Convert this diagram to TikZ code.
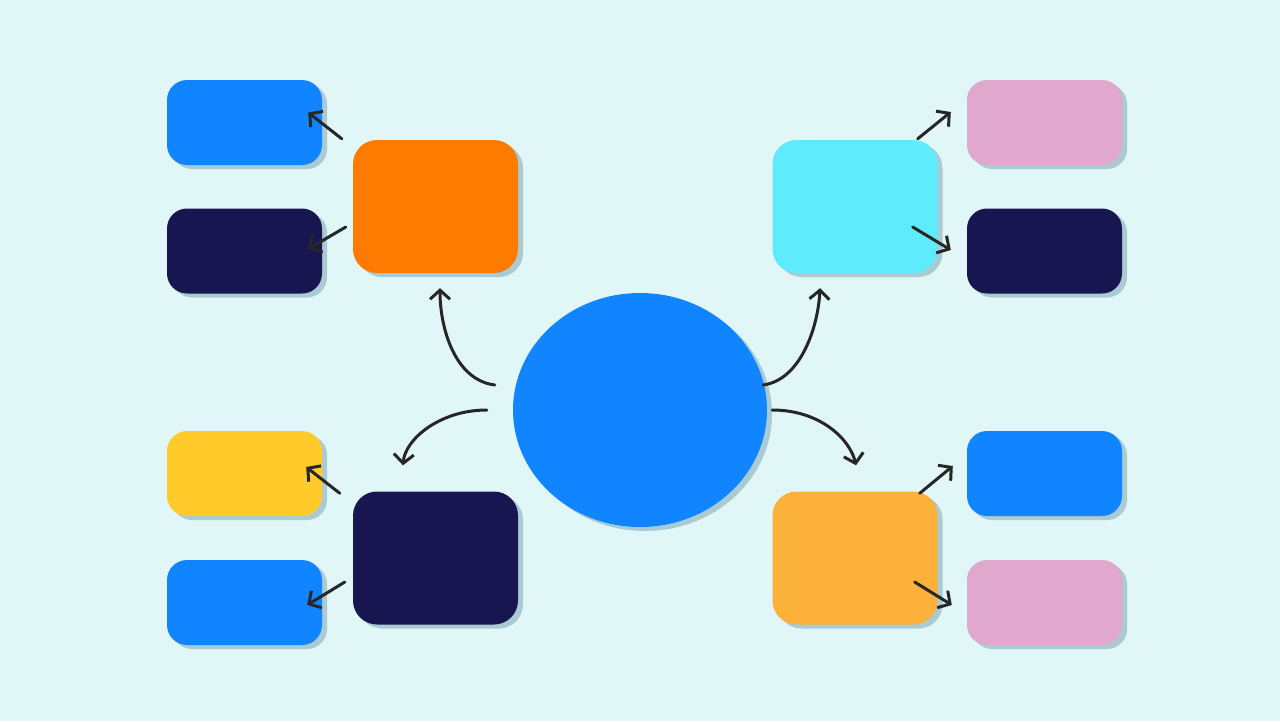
\documentclass[tikz,border=0pt]{standalone}
\usetikzlibrary{shapes.geometric,shadows,arrows.meta,calc}
\definecolor{bgc}{HTML}{E1F7F7}
\definecolor{shadowc}{HTML}{AACBD3}
\definecolor{mainblue}{HTML}{1185FF}
\definecolor{orangec}{HTML}{FF7B00}
\definecolor{cyanc}{HTML}{5EEBFC}
\definecolor{navyc}{HTML}{181651}
\definecolor{goldc}{HTML}{FCB13A}
\definecolor{yellowc}{HTML}{FFCA2A}
\definecolor{pinkc}{HTML}{E0A8CC}
\tikzset{
  blob/.style={rectangle, rounded corners=24pt, inner sep=0pt,
    drop shadow={shadow xshift=5pt, shadow yshift=-4pt, fill=shadowc, opacity=1}},
  bigbox/.style={blob, minimum width=165pt, minimum height=133pt},
  smallbox/.style={blob, rounded corners=20pt, minimum width=155pt, minimum height=85pt},
  arr/.style={draw=black!85, line width=3pt, line cap=round,
    -{Straight Barb[length=9pt,width=20pt,line width=3pt]}}
}
\begin{document}
\begin{tikzpicture}[x=1pt,y=-1pt]
  \fill[bgc] (0,0) rectangle (1280,721);
  \useasboundingbox (0,0) rectangle (1280,721);

  \node[ellipse, fill=mainblue, minimum width=254pt, minimum height=234pt,
    drop shadow={shadow xshift=5pt, shadow yshift=-4pt, fill=shadowc, opacity=1}] (c) at (640,410) {};

  \node[bigbox, fill=orangec] (orange) at (435.5,206.5) {};
  \node[bigbox, fill=cyanc] (cyan) at (855,206.5) {};
  \node[bigbox, fill=navyc] (navyB) at (435.5,558) {};
  \node[bigbox, fill=goldc] (gold) at (855,558) {};

  \node[smallbox, fill=mainblue] (blueA) at (244.5,122.5) {};
  \node[smallbox, fill=navyc] (navyA) at (244.5,251) {};
  \node[smallbox, fill=yellowc] (yellowA) at (244.5,473.5) {};
  \node[smallbox, fill=mainblue] (blueB) at (244.5,602.5) {};
  \node[smallbox, fill=pinkc] (pinkA) at (1044.5,122.5) {};
  \node[smallbox, fill=navyc] (navyR) at (1044.5,251) {};
  \node[smallbox, fill=mainblue] (blueR) at (1044.5,473.5) {};
  \node[smallbox, fill=pinkc] (pinkB) at (1044.5,602.5) {};

  % from the centre
  \draw[arr] ($(c.west)+(-18,-25)$) .. controls +(-40,-5) and +(0,40) .. ($(orange.south)+(4.5,15)$);
  \draw[arr] ($(c.east)+(-4,-25)$) .. controls +(37,-5) and +(-2,40) .. ($(cyan.south)+(-35,15)$);
  \draw[arr] ($(c.west)+(-26,0)$) .. controls +(-47,0) and +(2,-26) .. ($(navyB.north)+(-32.5,-26)$);
  \draw[arr] ($(c.east)+(5,0)$) .. controls +(48,0) and +(-6,-26) .. ($(gold.north)+(1,-26)$);

  % to the leaves
  \draw[arr] ($(orange.north west)+(-11,-1)$) -- ($(blueA.east)+(-14,-10)$);
  \draw[arr] ($(orange.west)+(-7,20.5)$) -- ($(navyA.east)+(-14,-2)$);
  \draw[arr] ($(navyB.north west)+(-13,2)$) -- ($(yellowA.east)+(-16,-6.5)$);
  \draw[arr] ($(navyB.west)+(-8,24)$) -- ($(blueB.east)+(-15,2.5)$);
  \draw[arr] ($(cyan.north east)+(-20,-1)$) -- ($(pinkA.west)+(-16,-10.5)$);
  \draw[arr] ($(cyan.east)+(-25,20.5)$) -- ($(navyR.west)+(-16,-1)$);
  \draw[arr] ($(gold.north east)+(-18,2)$) -- ($(blueR.west)+(-14,-7.5)$);
  \draw[arr] ($(gold.east)+(-23,24)$) -- ($(pinkB.west)+(-15,2.5)$);
\end{tikzpicture}
\end{document}
